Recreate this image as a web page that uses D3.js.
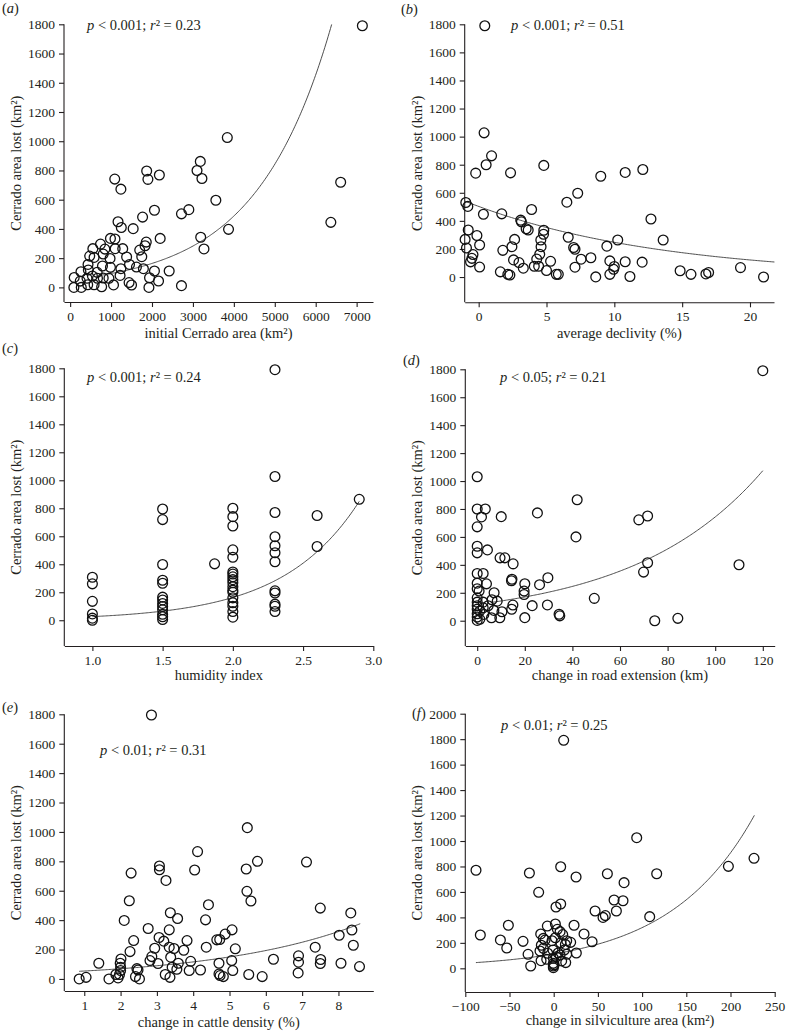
<!DOCTYPE html>
<html><head><meta charset="utf-8">
<script src="https://cdn.jsdelivr.net/npm/d3@7"></script>
<style>
html,body{margin:0;padding:0;background:#fff;}
svg text{font-family:"Liberation Serif","Times New Roman",serif;fill:#231f20;}
</style></head>
<body><svg id="c" width="786" height="1032"></svg>
<script>
// ---- data ----
const yLabel = "Cerrado area lost (km²)";
const xLabels = ["initial Cerrado area (km²)", "average declivity (%)", "humidity index",
  "change in road extension (km)", "change in cattle density (%)", "change in silviculture area (km²)"];
const panelLetters = ["a","b","c","d","e","f"];
const pValues = ["0.001","0.001","0.001","0.05","0.01","0.01"];
const r2Values = ["0.23","0.51","0.24","0.21","0.31","0.25"];

const xTicksA = [0,1000,2000,3000,4000,5000,6000,7000];
const xTicksB = [0,5,10,15,20];
const xTicksC = [1.0,1.5,2.0,2.5,3.0];
const xTicksD = [0,20,40,60,80,100,120];
const xTicksE = [1,2,3,4,5,6,7,8];
const xTicksF = [-100,-50,0,50,100,150,200,250];
const yTicks18 = [0,200,400,600,800,1000,1200,1400,1600,1800];
const yTicks20 = [0,200,400,600,800,1000,1200,1400,1600,1800,2000];

const pointsA = [[7140,1790],[3840,1025],[3180,862],[3100,800],[3220,745],[1870,796],[1900,739],[2180,769],[1090,741],[1240,672],[3560,596],[2720,503],[2900,532],[2060,528],[1770,481],[1170,449],[1250,410],[1540,402],[6610,719],[6370,445],[3870,397],[3190,343],[3270,263],[2200,335],[985,335],[1095,331],[1860,310],[1830,285],[1700,255],[1750,210],[1285,265],[1100,265],[742,296],[555,265],[849,262],[808,228],[478,214],[585,205],[975,198],[1380,208],[1450,157],[1620,139],[1790,128],[2060,112],[2420,112],[1240,128],[1220,82],[1440,33],[1500,16],[1940,66],[2160,44],[1925,0],[2720,12],[1060,17],[770,4],[808,64],[948,62],[985,137],[790,146],[660,103],[437,157],[445,119],[264,107],[99,68],[247,43],[412,62],[544,78],[668,62],[585,18],[429,18],[272,0],[91,0]];

const pointsB = [[0.45,1790],[0.4,1027],[0.95,863],[0.55,800],[-0.22,740],[2.35,742],[4.8,795],[9.0,718],[10.8,745],[12.1,766],[7.3,597],[6.5,533],[12.7,413],[3.9,481],[-0.95,531],[-0.8,503],[0.35,447],[1.7,450],[3.1,405],[3.15,393],[3.5,344],[3.65,335],[4.8,333],[4.78,305],[-0.77,335],[-0.13,296],[-1.0,268],[0.07,228],[-0.9,207],[2.65,268],[2.45,216],[1.78,190],[4.58,264],[4.6,216],[4.5,162],[4.28,128],[4.1,77],[4.42,77],[-0.42,160],[-0.5,133],[-0.6,108],[0.07,71],[2.57,122],[2.97,103],[3.29,63],[1.6,37],[2.15,19],[2.3,14],[5.0,46],[5.3,112],[5.72,19],[5.87,19],[6.6,283],[7.0,210],[7.1,198],[7.1,70],[7.55,127],[8.27,137],[8.63,1],[9.45,220],[9.67,115],[10.0,75],[9.95,55],[9.67,19],[10.25,264],[10.8,109],[11.15,4],[12.05,106],[13.6,264],[14.85,45],[15.65,19],[16.75,22],[16.95,32],[19.3,67],[21.0,0]];

const pointsC = [[1.0,307],[1.0,260],[1.0,135],[1.0,45],[1.0,15],[1.0,0],
  [1.5,795],[1.5,719],[1.5,398],[1.5,286],[1.5,264],[1.5,165],[1.5,145],[1.5,120],[1.5,98],[1.5,75],[1.5,43],[1.5,25],[1.5,5],
  [1.87,403],
  [2.0,800],[2.0,740],[2.0,673],[2.0,503],[2.0,450],[2.0,345],[2.0,330],[2.0,310],[2.0,290],[2.0,268],[2.0,240],[2.0,215],[2.0,200],[2.0,160],[2.0,125],[2.0,100],[2.0,62],[2.0,22],
  [2.3,1790],[2.3,1027],[2.3,770],[2.3,597],[2.3,532],[2.3,482],[2.3,418],[2.3,210],[2.3,195],[2.3,115],[2.3,100],[2.3,62],
  [2.6,748],[2.6,527],[2.9,864]];

const pointsD = [[120,1790],[0,1031],[42,866],[25.3,772],[10.1,745],[67.9,722],[71.6,750],[41.5,600],[71.6,415],[69.9,348],[110,401],[49.2,160],[74.6,0],[84.3,17],[29.7,308],[26.2,258],[23.1,108],[34.4,46],[34.7,35],[29.5,113],[20,265],[19.7,212],[19.7,188],[20,22],[15.1,407],[14.6,297],[14.4,286],[9.6,450],[11.6,450],[15,112],[14.5,82],[0,800],[3.4,800],[1.8,743],[0,672],[0,533],[0,486],[4.3,507],[0,338],[2.5,338],[0,269],[3.9,264],[0,229],[0.8,212],[7.1,200],[0,164],[6.2,150],[8.4,140],[2.5,133],[0,133],[0,107],[4.6,107],[0,83],[1.1,70],[2.5,93],[7,74],[10.4,64],[0,50],[2.8,45],[6,21],[9.5,21],[0,26],[0,2],[1.1,10]];

const pointsE = [[2.85,1795],[5.49,1029],[4.12,866],[3.07,768],[3.07,743],[3.25,670],[2.29,720],[4.04,741],[5.46,748],[5.77,800],[7.12,795],[5.48,596],[5.59,530],[2.24,532],[4.42,505],[2.10,398],[3.37,450],[3.57,411],[4.34,402],[7.50,482],[2.76,343],[3.34,334],[3.06,282],[3.19,257],[2.36,261],[4.65,266],[4.73,268],[4.88,305],[5.07,334],[5.16,205],[2.26,186],[2.94,209],[2.86,152],[3.34,216],[3.47,207],[3.74,195],[3.83,261],[4.36,216],[1.40,107],[2.01,136],[1.99,107],[2.81,125],[3.03,105],[3.38,148],[3.59,107],[3.42,80],[3.55,66],[3.93,120],[3.89,57],[4.20,61],[4.71,107],[4.71,34],[4.74,23],[4.83,16],[5.06,125],[5.09,57],[5.53,30],[5.90,16],[6.21,134],[6.90,157],[6.90,114],[6.89,41],[7.36,216],[7.51,132],[7.50,105],[0.86,0],[1.05,11],[1.68,0],[1.87,30],[1.93,7],[1.97,30],[2.0,57],[2.0,80],[2.41,16],[2.48,61],[2.45,70],[2.52,0],[3.23,30],[3.36,11],[8.34,449],[8.37,333],[8.41,229],[8.02,297],[8.07,107],[8.58,84]];

const pointsF = [[11.3,1791],[93.9,1026],[226.6,864],[197.6,801],[116.5,743],[60.7,743],[79.6,673],[-87.9,770],[-27.5,749],[7.9,798],[25.3,717],[-17,597],[68.3,537],[78.4,531],[7.9,505],[2.6,482],[46.8,450],[70.9,450],[58.4,414],[55.8,400],[108.6,406],[-83,262],[-51.3,338],[-60.3,223],[-53.1,160],[-34.7,212],[-29,110],[-26,18],[23,338],[34.3,270],[43.4,209],[25.6,120],
  [-7.2,332],[1.9,348],[4.1,306],[7.2,288],[10.2,265],[-14.7,270],[-11.7,235],[-9.8,222],[-14,181],[-15.5,136],[-11.7,157],[-6.8,118],[-7.9,71],[-14.3,60],[-0.8,144],[-1.9,217],[1.9,240],[14.7,217],[19.2,204],[13.2,188],[12,144],[7.2,105],[3,90],[-0.4,79],[-0.4,39],[-0.4,18],[-0.4,5],[0.5,28],[9,58],[14.7,110],[13.6,45],[5,120],[8,200]];

// fitted exponential curves: y = A * exp(B * x), drawn for x in [from, to]
const fitA = [55, 5.458e-4, 750, 6390];
const fitB = [503, -0.071, -1, 21.8];
const fitC = [4.15, 1.835, 1.0, 2.9];
const fitD = [117.5, 0.01844, 6, 120];
const fitE = [41.7, 0.2556, 0.86, 8.6];
const fitF = [112.6, 0.01043, -88, 227];

// ---- layout ----
const panels = [
  {pts:pointsA, fit:fitA, xt:xTicksA, yt:yTicks18, xd:[-150,7400], xr:[64,373], yd:[-100,1800], yr:[302,24.3],
   lab:[2,13], ann:[87,30], xlb:338, ylx:21, fmt:d3.format("d")},
  {pts:pointsB, fit:fitB, xt:xTicksB, yt:yTicks18, xd:[-1.03,21.77], xr:[464.7,774], yd:[-180,1800], yr:[302.3,24.3],
   lab:[401,14], ann:[511,30], xlb:338, ylx:422, fmt:d3.format("d")},
  {pts:pointsC, fit:fitC, xt:xTicksC, yt:yTicks18, xd:[0.8,3.0], xr:[64.3,373.3], yd:[-184,1800], yr:[646,368.3],
   lab:[2,353], ann:[87,382], xlb:680, ylx:21, fmt:d3.format(".1f")},
  {pts:pointsD, fit:fitD, xt:xTicksD, yt:yTicks18, xd:[-5,125], xr:[465.3,774.7], yd:[-181,1800], yr:[646,369.3],
   lab:[403,365], ann:[500,382], xlb:680, ylx:422, fmt:d3.format("d")},
  {pts:pointsE, fit:fitE, xt:xTicksE, yt:yTicks18, xd:[0.45,8.96], xr:[64.3,373.3], yd:[-82,1800], yr:[991,714.3],
   lab:[2,712], ann:[100,755], xlb:1027, ylx:21, fmt:d3.format("d")},
  {pts:pointsF, fit:fitF, xt:xTicksF, yt:yTicks20, xd:[-100,250], xr:[465.3,774.7], yd:[-186,2000], yr:[992,713.7],
   lab:[412,718], ann:[501,730], xlb:1025, ylx:422, fmt:d3.format("d")}
];

const svg = d3.select("#c");
const TICK_FS = 13.5, LAB_FS = 14.5;

panels.forEach((p, i) => {
  const x = d3.scaleLinear().domain(p.xd).range(p.xr);
  const y = d3.scaleLinear().domain(p.yd).range(p.yr);
  const g = svg.append("g");

  const xa = g.append("g").attr("transform", `translate(0,${p.yr[0]})`)
    .call(d3.axisBottom(x).tickValues(p.xt).tickFormat(p.fmt).tickSize(5).tickSizeOuter(0).tickPadding(4));
  const ya = g.append("g").attr("transform", `translate(${p.xr[0]},0)`)
    .call(d3.axisLeft(y).tickValues(p.yt).tickFormat(d3.format("d")).tickSize(5).tickSizeOuter(0).tickPadding(4));
  [xa, ya].forEach(a => {
    a.selectAll("path.domain").attr("stroke", "#231f20").attr("stroke-width", 1.1);
    a.selectAll(".tick line").attr("stroke", "#231f20").attr("stroke-width", 1.1);
    a.selectAll(".tick text").attr("font-size", TICK_FS).attr("font-family", "Liberation Serif").attr("fill", "#231f20");
  });
  ya.select("path.domain").attr("d", `M0,${p.yr[0]}V${y(p.yt[p.yt.length-1])}`);

  const [A, B, x0, x1] = p.fit;
  const xs = d3.range(0, 201).map(k => x0 + (x1 - x0) * k / 200);
  g.append("path")
    .attr("d", d3.line().x(d => x(d)).y(d => y(A * Math.exp(B * d)))(xs))
    .attr("fill", "none").attr("stroke", "#3a3a3a").attr("stroke-width", 0.9);

  g.append("g").selectAll("circle").data(p.pts).join("circle")
    .attr("cx", d => x(d[0])).attr("cy", d => y(d[1])).attr("r", 4.9)
    .attr("fill", "none").attr("stroke", "#111").attr("stroke-width", 1.3);

  const pl = g.append("text").attr("x", p.lab[0]).attr("y", p.lab[1]).attr("font-size", LAB_FS);
  pl.append("tspan").text("(");
  pl.append("tspan").attr("font-style", "italic").text(panelLetters[i]);
  pl.append("tspan").text(")");

  const an = g.append("text").attr("x", p.ann[0]).attr("y", p.ann[1]).attr("font-size", LAB_FS);
  an.append("tspan").attr("font-style", "italic").text("p");
  an.append("tspan").text(" < " + pValues[i] + "; ");
  an.append("tspan").attr("font-style", "italic").text("r");
  an.append("tspan").text("² = " + r2Values[i]);

  g.append("text").attr("x", (p.xr[0] + p.xr[1]) / 2).attr("y", p.xlb)
    .attr("text-anchor", "middle").attr("font-size", LAB_FS).text(xLabels[i]);
  const cy = (p.yr[0] + p.yr[1]) / 2;
  g.append("text").attr("transform", `translate(${p.ylx},${cy}) rotate(-90)`)
    .attr("text-anchor", "middle").attr("font-size", LAB_FS).text(yLabel);
});
</script></body></html>
